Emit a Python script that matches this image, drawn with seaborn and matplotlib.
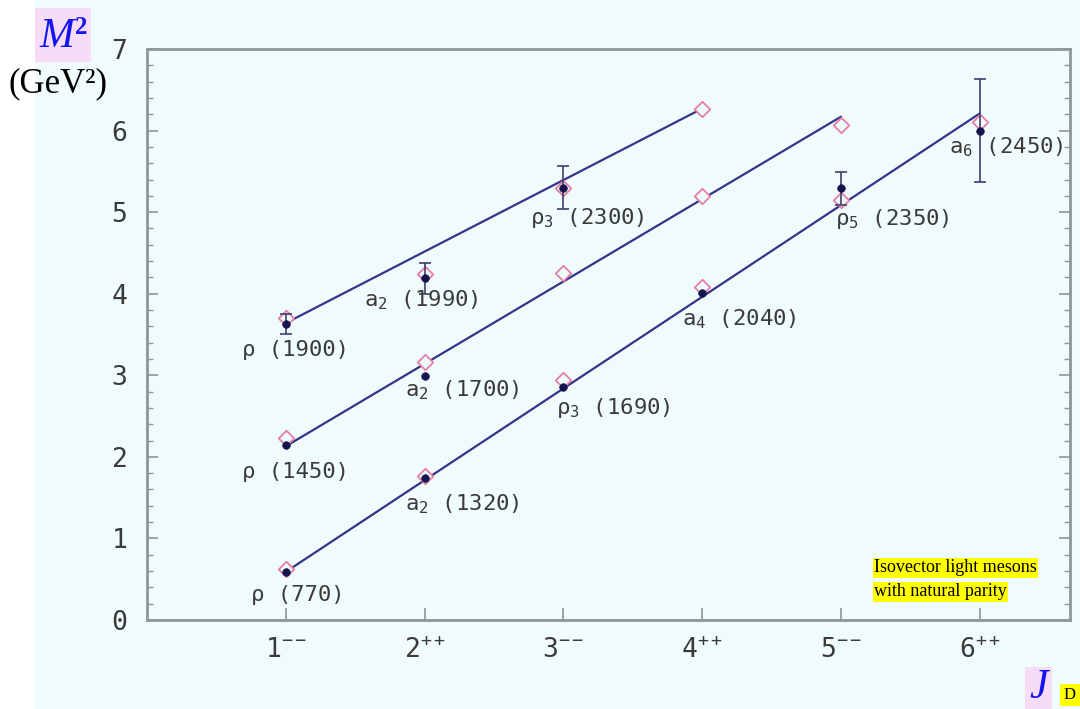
import numpy as np
import pandas as pd
import matplotlib
matplotlib.use("Agg")
import matplotlib.pyplot as plt
from matplotlib.patches import Rectangle
from matplotlib.ticker import MultipleLocator, FixedLocator
import seaborn as sns

# ---- data -------------------------------------------------------------
J_values = [1, 2, 3, 4, 5, 6]
J_labels = ["$1^{--}$", "$2^{++}$", "$3^{--}$", "$4^{++}$", "$5^{--}$", "$6^{++}$"]

# model predictions (open diamonds), one list per trajectory
model_leading = [0.62, 1.76, 2.94, 4.08, 5.15, 6.10]
model_radial1 = [2.23, 3.16, 4.25, 5.20, 6.07]
model_radial2 = [3.70, 4.24, 5.30, 6.27]

# straight trajectories: (J_start, M2_start, J_end, M2_end)
traj_leading = [1, 0.59, 6, 6.21]
traj_radial1 = [1, 2.13, 5, 6.17]
traj_radial2 = [1, 3.64, 4, 6.27]

# experimental states (filled dots)
exp_names = ["ρ (770)", "a$_2$ (1320)", "ρ$_3$ (1690)", "a$_4$ (2040)",
             "ρ$_5$ (2350)", "a$_6$ (2450)",
             "ρ (1450)", "a$_2$ (1700)",
             "ρ (1900)", "a$_2$ (1990)", "ρ$_3$ (2300)"]
exp_J = [1, 2, 3, 4, 5, 6, 1, 2, 1, 2, 3]
exp_M2 = [0.59, 1.74, 2.86, 4.01, 5.29, 6.00, 2.14, 2.99, 3.63, 4.19, 5.30]
exp_err = [0, 0, 0, 0, 0.20, 0.63, 0, 0, 0.12, 0.19, 0.26]

# label offsets from each state, in points (dx, dy)
label_offsets = [(9, -17), (27, -19), (36, -15), (27, -19), (37, -22), (19, -12),
                 (7, -19), (27, -10), (7, -19), (-2, -16), (17, -22)]

# ---- style ------------------------------------------------------------
BG = "#f0fbfc"
PINK_BOX = "#f6dcf6"
GRAY_TXT = "#3a3a3a"
SPINE = "#8e959c"
LINE_C = "#34348a"
DOT_C = "#15154d"
DIAMOND_C = "#e47fa3"

sns.set_theme(style="ticks")
plt.rcParams["font.family"] = ["DejaVu Sans Mono", "DejaVu Sans"]
plt.rcParams["mathtext.fontset"] = "custom"
plt.rcParams["mathtext.rm"] = "DejaVu Sans Mono"
plt.rcParams["mathtext.it"] = "DejaVu Sans Mono"
plt.rcParams["mathtext.bf"] = "DejaVu Sans Mono:bold"

W, H = 1080, 709
fig = plt.figure(figsize=(W / 100, H / 100), dpi=100, facecolor="white")
fig.patches.append(Rectangle((35 / W, 0), 1 - 35 / W, 1, transform=fig.transFigure,
                             facecolor=BG, edgecolor="none", zorder=-5))

ax = fig.add_axes([147 / W, 1 - 620 / H, (1070 - 147) / W, (620 - 49) / H])
ax.set_zorder(1)
ax.set_facecolor(BG)
ax.set_xlim(0, 6.65)
ax.set_ylim(0, 7)

# trajectories
rows = []
for name, t in [("leading", traj_leading), ("radial1", traj_radial1), ("radial2", traj_radial2)]:
    rows.append({"traj": name, "J": t[0], "M2": t[1]})
    rows.append({"traj": name, "J": t[2], "M2": t[3]})
lines_df = pd.DataFrame(rows)
sns.lineplot(data=lines_df, x="J", y="M2", units="traj", estimator=None,
             color=LINE_C, lw=1.6, ax=ax, zorder=2)

# model diamonds
model_df = pd.DataFrame({
    "J": J_values[:len(model_leading)] + J_values[:len(model_radial1)] + J_values[:len(model_radial2)],
    "M2": model_leading + model_radial1 + model_radial2,
})
sns.scatterplot(data=model_df, x="J", y="M2", marker="D", s=62, facecolor=BG,
                edgecolor=DIAMOND_C, linewidth=1.3, ax=ax, zorder=3)

# experimental points with error bars
exp_df = pd.DataFrame({"J": exp_J, "M2": exp_M2, "err": exp_err})
has_err = exp_df["err"] > 0
ax.errorbar(exp_df.loc[has_err, "J"], exp_df.loc[has_err, "M2"], yerr=exp_df.loc[has_err, "err"],
            fmt="none", ecolor="#3e3e70", elinewidth=1.2, capsize=4, capthick=1.2, zorder=4)
sns.scatterplot(data=exp_df, x="J", y="M2", s=30, color=DOT_C, edgecolor=DOT_C,
                linewidth=0.5, ax=ax, zorder=5)

for name, j, m2, (dx, dy) in zip(exp_names, exp_J, exp_M2, label_offsets):
    ax.annotate(name, (j, m2), xytext=(dx, dy), textcoords="offset points",
                ha="center", va="center", fontsize=16, color=GRAY_TXT, zorder=6)

# axes cosmetics
ax.set_xlabel("")
ax.set_ylabel("")
for s in ax.spines.values():
    s.set_visible(True)
    s.set_color(SPINE)
    s.set_linewidth(2)
ax.xaxis.set_major_locator(FixedLocator(J_values))
ax.set_xticklabels(J_labels)
ax.yaxis.set_major_locator(MultipleLocator(1))
ax.yaxis.set_minor_locator(MultipleLocator(0.2))
ax.tick_params(axis="y", which="major", direction="in", left=True, right=True,
               length=8, width=1.2, color=SPINE, labelsize=19, labelcolor=GRAY_TXT, pad=14)
ax.tick_params(axis="y", which="minor", direction="in", left=True, right=True,
               length=4, width=1.0, color=SPINE)
ax.tick_params(axis="x", which="major", direction="in", bottom=True, top=False,
               length=9, width=1.2, color=SPINE, labelsize=19, labelcolor=GRAY_TXT, pad=12)
if ax.get_legend() is not None:
    ax.get_legend().remove()

# axis captions
fig.patches.append(Rectangle((35 / W, 1 - 62 / H), 56 / W, 54 / H, transform=fig.transFigure,
                             facecolor=PINK_BOX, edgecolor="none", zorder=-4))
fig.text(57 / W, 1 - 37 / H, "M", fontsize=30, color="#1414f0", style="italic",
         family="Liberation Serif", ha="center", va="center", zorder=2)
fig.text(81 / W, 1 - 27 / H, "2", fontsize=18, color="#1414f0", weight="bold",
         family="Liberation Serif", ha="center", va="center", zorder=2)
fig.text(58 / W, 1 - 84 / H, "(GeV²)", fontsize=25, color="black",
         family="Liberation Serif", ha="center", va="center", zorder=2)

fig.patches.append(Rectangle((1025 / W, 0), 27 / W, 42 / H, transform=fig.transFigure,
                             facecolor=PINK_BOX, edgecolor="none", zorder=-4))
fig.text(1039 / W, 1 - 688 / H, "J", fontsize=30, color="#1414f0", style="italic",
         family="Liberation Serif", ha="center", va="center", zorder=2)
fig.patches.append(Rectangle((1060 / W, 3 / H), 20 / W, 22 / H, transform=fig.transFigure,
                             facecolor="#ffff00", edgecolor="none", zorder=-4))
fig.text(1070 / W, 1 - 695 / H, "D", fontsize=12, color="black",
         family="Liberation Serif", ha="center", va="center", zorder=2)

for k, line in enumerate(["Isovector light mesons", "with natural parity"]):
    fig.text(874 / W, 1 - (568 + 24 * k) / H, line, fontsize=13, color="black",
             family="Liberation Serif", ha="left", va="center", zorder=3,
             bbox=dict(boxstyle="square,pad=0.08", facecolor="#ffff00", edgecolor="none"))

fig.savefig("out.png", dpi=100, facecolor="white")
